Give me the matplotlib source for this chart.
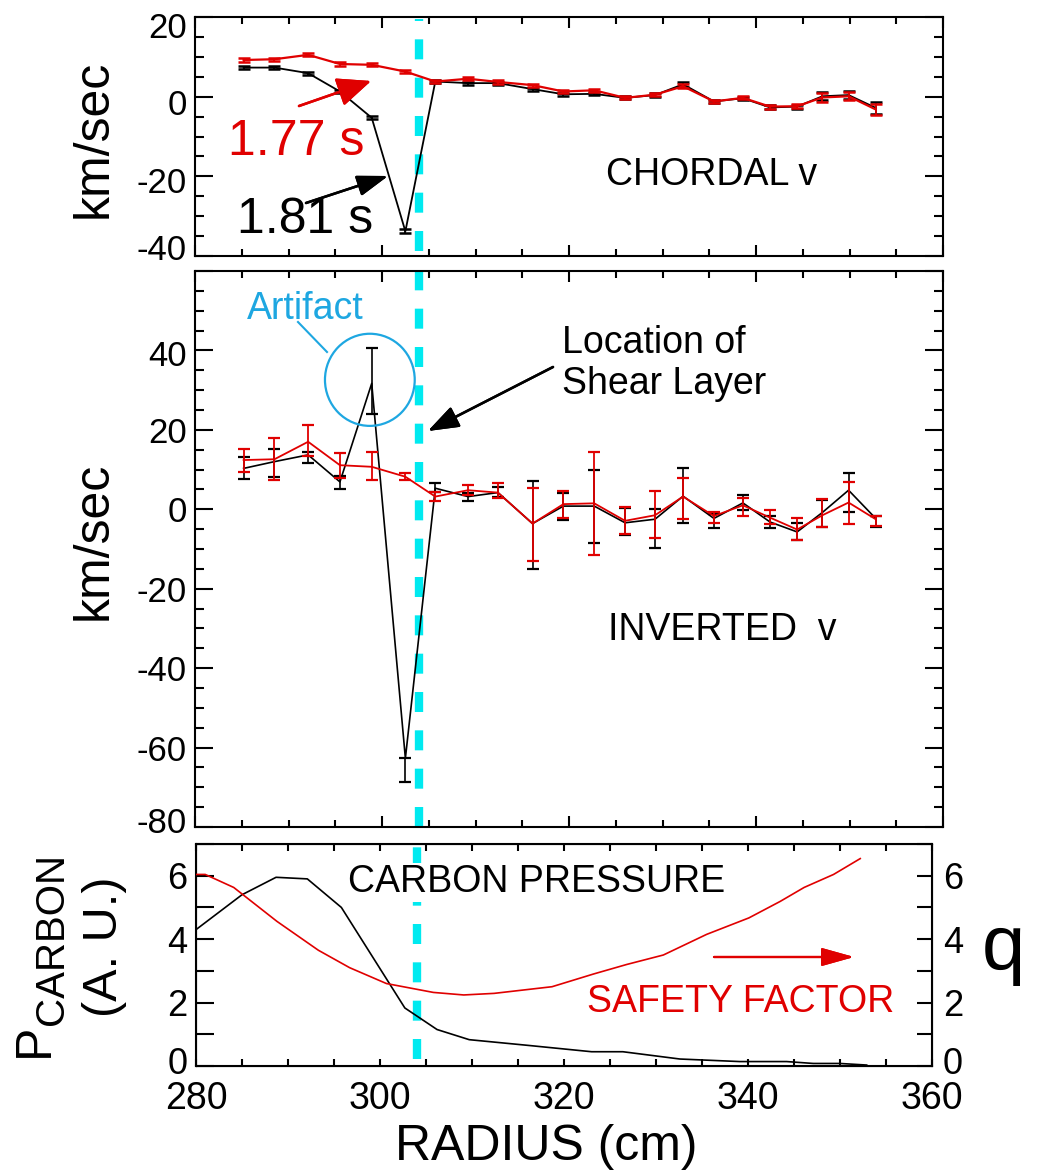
import matplotlib
matplotlib.use("Agg")
import matplotlib.pyplot as plt
import matplotlib.transforms as mtransforms
from matplotlib.patches import Ellipse
from matplotlib.ticker import MultipleLocator, FuncFormatter

plt.rcParams['font.family'] = ['Liberation Sans', 'DejaVu Sans']
plt.rcParams['axes.unicode_minus'] = False

# Major radius of the measurement channels (cm)
radius = [285.2, 288.5, 292.1, 295.5, 298.9, 302.5, 305.7, 309.2, 312.4, 316.1, 319.4,
          322.7, 326.0, 329.2, 332.2, 335.5, 338.6, 341.5, 344.4, 347.1, 349.9, 352.8]

# Chordal (line-integrated) velocity, km/s
chordal_181 = [7.3, 7.3, 5.9, 1.3, -5.3, -33.8, 3.8, 3.4, 3.4, 1.9, 0.6,
               0.7, -0.3, 0.4, 3.1, -1.2, -0.4, -2.7, -2.5, 0.1, 0.4, -2.8]
chordal_181_err = [0.4, 0.4, 0.4, 0.4, 0.4, 0.5, 0.4, 0.4, 0.4, 0.4, 0.4,
                   0.4, 0.4, 0.4, 0.7, 0.4, 0.4, 0.5, 0.5, 1.0, 1.0, 1.5]
chordal_177 = [9.2, 9.4, 10.5, 8.2, 8.0, 6.3, 3.8, 4.5, 3.7, 2.9, 1.3,
               1.6, -0.3, 0.5, 2.6, -1.2, -0.3, -2.5, -2.4, -0.2, 0.1, -3.2]
chordal_177_err = [0.5, 0.4, 0.4, 0.4, 0.4, 0.4, 0.4, 0.4, 0.4, 0.4, 0.4,
                   0.4, 0.4, 0.4, 0.5, 0.4, 0.4, 0.5, 0.5, 1.1, 1.0, 1.4]

# Inverted (local) velocity, km/s, with lower / upper error bar ends
inverted_181 = [10.3, 12.0, 13.7, 6.9, 31.7, -62.7, 5.3, 3.2, 4.2, -3.6, 0.8,
                0.8, -3.4, -2.5, 3.3, -2.3, 1.6, -3.2, -5.7, -0.8, 4.8, -2.3]
inverted_181_lo = [7.7, 8.2, 11.6, 5.1, 24.0, -68.6, 4.4, 2.2, 3.0, -15.1, -2.7,
                   -8.6, -6.5, -9.8, -3.4, -4.6, -0.2, -4.8, -7.8, -4.4, -0.6, -4.5]
inverted_181_hi = [13.2, 15.2, 14.3, 8.3, 40.5, -62.7, 6.7, 4.2, 5.5, 7.1, 4.0,
                   9.9, 0.2, 0.0, 10.3, -1.1, 3.6, -1.7, -3.4, 2.3, 9.2, -1.7]
inverted_177 = [12.4, 12.6, 17.0, 11.1, 10.7, 8.2, 3.2, 4.8, 4.2, -3.6, 1.3,
                1.5, -2.9, -1.5, 3.2, -1.7, 1.0, -2.1, -5.1, -1.5, 1.7, -2.5]
inverted_177_lo = [9.3, 7.4, 13.5, 7.8, 7.5, 7.5, 2.2, 3.6, 2.8, -13.0, -2.3,
                   -11.5, -6.3, -7.3, -2.5, -3.5, -1.6, -3.8, -7.8, -4.5, -3.6, -4.3]
inverted_177_hi = [15.2, 18.0, 21.2, 14.1, 14.3, 9.2, 4.4, 6.2, 6.5, 5.4, 4.6,
                   14.3, 0.6, 4.7, 7.9, -0.6, 2.9, -0.2, -2.1, 2.6, 6.8, -1.7]

# Carbon pressure profile (arb. units)
pressure_r = [280.0, 285.0, 288.7, 292.1, 295.8, 302.7, 306.2, 309.7, 316.1,
              323.0, 326.4, 332.6, 339.1, 344.2, 347.1, 350.0, 352.9]
pressure = [4.3, 5.4, 5.95, 5.9, 5.0, 1.83, 1.15, 0.83, 0.65,
            0.45, 0.45, 0.22, 0.14, 0.14, 0.08, 0.08, 0.03]

# Safety factor profile
q_r = [280.0, 281.0, 284.1, 288.8, 293.3, 296.7, 300.7, 305.8, 309.1, 312.4,
       318.7, 323.2, 326.8, 330.8, 335.5, 340.1, 343.5, 346.1, 349.3, 352.2]
q_vals = [6.04, 6.04, 5.63, 4.56, 3.65, 3.1, 2.6, 2.32, 2.24, 2.29,
          2.5, 2.9, 3.2, 3.5, 4.15, 4.67, 5.19, 5.63, 6.04, 6.54]

shear_r = 304.0

RED = '#e00000'
CYAN = '#00eaf0'
BLUE = '#1ea7e1'

W, H = 1037, 1171
fig = plt.figure(figsize=(W / 100, H / 100), dpi=100)


def fx(px):
    return px / W


def fy(py):
    return 1 - py / H


def px_box(left, top, right, bottom):
    return [left / W, 1 - bottom / H, (right - left) / W, (bottom - top) / H]


def style_axes(ax, ylo, yhi, ymajor, yminor, hide=()):
    ax.set_xlim(280, 360)
    ax.set_ylim(ylo, yhi)
    ax.xaxis.set_major_locator(MultipleLocator(20))
    ax.xaxis.set_minor_locator(MultipleLocator(5))
    ax.yaxis.set_major_locator(MultipleLocator(ymajor))
    ax.yaxis.set_minor_locator(MultipleLocator(yminor))
    ax.yaxis.set_major_formatter(FuncFormatter(lambda v, p: '' if v in hide else f'{v:g}'))
    ax.tick_params(which='both', direction='in', top=True, right=True, width=1.5)
    ax.tick_params(axis='x', which='major', length=8, labelbottom=False)
    ax.tick_params(axis='x', which='minor', length=5)
    ax.tick_params(axis='y', which='major', length=13, labelsize=25, pad=6)
    ax.tick_params(axis='y', which='minor', length=6.5)
    for s in ax.spines.values():
        s.set_linewidth(1.5)


def nudge_labels(ax, shifts, right=False):
    # shift individual y tick labels vertically (pixels, positive = down)
    for tick in ax.yaxis.get_major_ticks():
        v = tick.get_loc()
        lab = tick.label2 if right else tick.label1
        for key, dy in shifts.items():
            if v is not None and abs(v - key) < 1e-6:
                off = mtransforms.ScaledTranslation(0, -dy / 100, fig.dpi_scale_trans)
                lab.set_transform(lab.get_transform() + off)


def shear_line(ax, ymin=0.0, ymax=1.0):
    ax.axvline(shear_r, ymin=ymin, ymax=ymax, color=CYAN, lw=6,
               dashes=(2.4, 2.2), zorder=1)


def bars(vals, lo, hi):
    return [[v - l for v, l in zip(vals, lo)], [h - v for v, h in zip(vals, hi)]]


def arrow(x0, y0, x1, y1, color, hl, hw, lw=1.8):
    fig.add_artist(plt.annotate('', xy=(fx(x1), fy(y1)), xytext=(fx(x0), fy(y0)),
                                xycoords='figure fraction',
                                arrowprops=dict(arrowstyle=f'-|>,head_length={hl},head_width={hw}',
                                                mutation_scale=20, color=color, lw=lw,
                                                shrinkA=0, shrinkB=0)))


# ---- chordal velocity ----
ax1 = fig.add_axes(px_box(195, 17, 943, 256))
style_axes(ax1, -40, 20, 20, 5)
shear_line(ax1, 0.02, 0.99)
ax1.errorbar(radius, chordal_181, yerr=chordal_181_err, color='black', lw=1.3,
             elinewidth=1.3, capsize=4, capthick=1.8, zorder=3)
ax1.errorbar(radius, chordal_177, yerr=chordal_177_err, color=RED, lw=1.6,
             elinewidth=1.3, capsize=4, capthick=1.8, zorder=4)

fig.text(fx(228), fy(155), '1.77 s', color=RED, size=36, va='baseline')
fig.text(fx(237), fy(233), '1.81 s', color='black', size=36, va='baseline')
fig.text(fx(606), fy(185), 'CHORDAL v', size=27, va='baseline')
arrow(299, 106, 371, 81, RED, 1.05, 0.45)
arrow(306, 203, 388, 176, 'black', 0.95, 0.32)

# ---- inverted velocity ----
ax2 = fig.add_axes(px_box(195, 271, 943, 827))
style_axes(ax2, -80, 60, 20, 5, hide=(60,))
shear_line(ax2)
ax2.errorbar(radius, inverted_181, yerr=bars(inverted_181, inverted_181_lo, inverted_181_hi),
             color='black', lw=1.2, elinewidth=1.2, capsize=4, capthick=1.6, zorder=3)
ax2.errorbar(radius, inverted_177, yerr=bars(inverted_177, inverted_177_lo, inverted_177_hi),
             color=RED, lw=1.3, elinewidth=1.3, capsize=4, capthick=1.6, zorder=4)
ax2.add_patch(Ellipse((298.7, 32.6), 9.6, 23.2, fill=False, edgecolor=BLUE, lw=1.6, zorder=5))

fig.text(fx(247), fy(319), 'Artifact', color=BLUE, size=27, va='baseline')
fig.add_artist(plt.Line2D([fx(298), fx(327)], [fy(322), fy(352)], color=BLUE, lw=1.5))
fig.text(fx(562), fy(353), 'Location of', size=27, va='baseline')
fig.text(fx(562), fy(394), 'Shear Layer', size=27, va='baseline')
arrow(553, 367, 428, 431, 'black', 0.95, 0.34)
fig.text(fx(608), fy(640), 'INVERTED  v', size=27, va='baseline')

# ---- carbon pressure and safety factor ----
ax3 = fig.add_axes(px_box(196, 844, 932, 1066))
ax3.set_xlim(280, 360)
ax3.set_ylim(0, 7)
ax3.xaxis.set_major_locator(MultipleLocator(20))
ax3.xaxis.set_minor_locator(MultipleLocator(5))
ax3.yaxis.set_major_locator(MultipleLocator(2))
ax3.yaxis.set_minor_locator(MultipleLocator(1))
ax3.tick_params(which='both', direction='in', top=True, width=1.5)
ax3.tick_params(axis='x', which='both', length=5, labelsize=27, pad=11)
ax3.tick_params(axis='y', which='both', length=13, labelsize=26, pad=6)
for s in ax3.spines.values():
    s.set_linewidth(1.5)
shear_line(ax3, 0.03, 0.985)
ax3.plot(pressure_r, pressure, color='black', lw=1.2, zorder=3)

ax3r = ax3.twinx()
ax3r.set_ylim(0, 7)
ax3r.yaxis.set_major_locator(MultipleLocator(2))
ax3r.yaxis.set_minor_locator(MultipleLocator(1))
ax3r.tick_params(which='both', direction='in', length=11, width=1.5, labelsize=26, pad=8)
ax3r.plot(q_r, q_vals, color=RED, lw=1.2, zorder=3)

fig.text(fx(348), fy(892), 'CARBON PRESSURE', size=27, va='baseline', zorder=10,
         bbox=dict(facecolor='white', edgecolor='none', pad=1))
fig.text(fx(587), fy(1012), 'SAFETY FACTOR', color=RED, size=27, va='baseline')
arrow(714, 957, 854, 957, RED, 1.0, 0.28, lw=1.6)

# ---- axis titles ----
fig.text(fx(107), fy(139), 'km/sec', size=36, rotation=90, rotation_mode='anchor',
         ha='center', va='baseline')
fig.text(fx(107), fy(541), 'km/sec', size=36, rotation=90, rotation_mode='anchor',
         ha='center', va='baseline')
fig.text(fx(48), fy(1040), 'P', size=36, rotation=90, rotation_mode='anchor',
         ha='center', va='baseline')
fig.text(fx(63), fy(939), 'CARBON', size=29, rotation=90, rotation_mode='anchor',
         ha='center', va='baseline')
fig.text(fx(117), fy(947), '(A. U.)', size=35, rotation=90, rotation_mode='anchor',
         ha='center', va='baseline')
fig.text(fx(1003), fy(970), 'q', size=56, ha='center', va='baseline')
fig.text(fx(395), fy(1160), 'RADIUS (cm)', size=36, va='baseline')

# tick positions are only known after a first draw
fig.canvas.draw()
nudge_labels(ax1, {20: 8, 0: 5, -20: 4, -40: -9})
nudge_labels(ax2, {40: 3, -80: -7})
nudge_labels(ax3, {0: -6})
nudge_labels(ax3r, {0: -5}, right=True)

fig.savefig('out.png', dpi=100)
